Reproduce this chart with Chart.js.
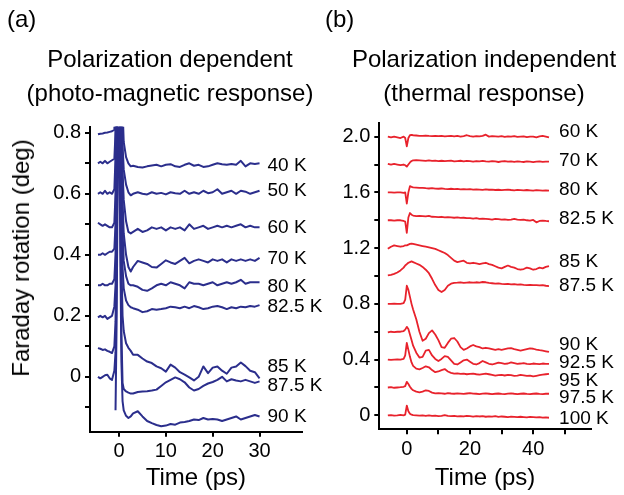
<!DOCTYPE html>
<html>
<head>
<meta charset="utf-8">
<script src="https://cdn.jsdelivr.net/npm/chart.js@4/dist/chart.umd.min.js"></script>
<style>
  html, body { margin: 0; padding: 0; background: #fff; }
  #wrap { position: relative; width: 624px; height: 495px; overflow: hidden; font-family: "Liberation Sans", Arial, sans-serif; color: #000; }
  canvas { position: absolute; left: 0; top: 0; }
  .txt { position: absolute; font-size: 24px; line-height: 24px; white-space: nowrap; }
  .ctr { transform: translateX(-50%); }
  #ytitle { transform: translate(-50%, -50%) rotate(-90deg); }
</style>
</head>
<body>
<div id="wrap">
  <canvas id="left" width="624" height="495"></canvas>
  <canvas id="right" width="624" height="495"></canvas>
  <div class="txt" style="left:7px; top:7px;">(a)</div>
  <div class="txt ctr" style="left:170px; top:47px;">Polarization dependent</div>
  <div class="txt ctr" style="left:170px; top:81px;">(photo-magnetic response)</div>
  <div class="txt" style="left:325px; top:7px;">(b)</div>
  <div class="txt ctr" style="left:484px; top:47px;">Polarization independent</div>
  <div class="txt ctr" style="left:484px; top:81px;">(thermal response)</div>
  <div class="txt" id="ytitle" style="left:21px; top:258px;">Faraday rotation (deg)</div>
</div>
<script>
// ---------- Panel (a): polarization-dependent Faraday rotation ----------
// delay axis: before pump, the pump spike (fine steps), then 1 ps steps
const timeA = [-4.5, -4, -3.5, -3, -2.5, -2, -1.5,
  -1, -0.75, -0.5, -0.25, 0, 0.25, 0.5, 0.75, 1, 1.5, 2, 2.5, 3,
  4, 5, 6, 7, 8, 9, 10, 11, 12, 13, 14, 15, 16, 17, 18, 19, 20, 21, 22, 23, 24, 25, 26, 27, 28, 29, 30];

const a_top = [0.795, 0.797, 0.798, 0.80, 0.801, 0.803, 0.805,
  0.81, 0.95, 1.6];
const a_40K = [0.70, 0.705, 0.70, 0.708, 0.70, 0.705, 0.71,
  0.715, 0.80, 1.5, 1.9, 1.8, 1.5, 1.2, 0.88, 0.77, 0.72, 0.70, 0.69, 0.692,
  0.688, 0.686, 0.69, 0.693, 0.695, 0.69, 0.695, 0.697, 0.69, 0.688, 0.695, 0.70, 0.692, 0.695, 0.688, 0.69, 0.695, 0.70, 0.697, 0.695, 0.698, 0.695, 0.708, 0.69, 0.70, 0.698, 0.70];
const a_50K = [0.60, 0.605, 0.60, 0.61, 0.60, 0.605, 0.60,
  0.615, 0.72, 1.3, 1.8, 1.7, 1.3, 1.0, 0.76, 0.68, 0.63, 0.605, 0.595, 0.60,
  0.605, 0.60, 0.598, 0.605, 0.60, 0.603, 0.598, 0.605, 0.602, 0.60, 0.61, 0.60, 0.605, 0.60, 0.61, 0.602, 0.605, 0.615, 0.60, 0.605, 0.61, 0.60, 0.61, 0.607, 0.60, 0.605, 0.61];
const a_60K = [0.505, 0.50, 0.495, 0.50, 0.495, 0.49, 0.49,
  0.505, 0.60, 1.0, 1.6, 1.6, 1.2, 0.90, 0.68, 0.58, 0.51, 0.475, 0.47, 0.475,
  0.485, 0.475, 0.48, 0.49, 0.485, 0.49, 0.48, 0.49, 0.485, 0.49, 0.48, 0.50, 0.485, 0.49, 0.495, 0.485, 0.49, 0.495, 0.49, 0.495, 0.49, 0.495, 0.50, 0.49, 0.495, 0.49, 0.49];
const a_70K = [0.40, 0.40, 0.405, 0.40, 0.405, 0.41, 0.41,
  0.42, 0.50, 0.85, 1.4, 1.5, 1.1, 0.80, 0.58, 0.47, 0.40, 0.36, 0.345, 0.36,
  0.38, 0.375, 0.37, 0.36, 0.358, 0.37, 0.382, 0.375, 0.37, 0.38, 0.39, 0.372, 0.38, 0.385, 0.38, 0.375, 0.385, 0.38, 0.385, 0.375, 0.385, 0.38, 0.385, 0.38, 0.385, 0.38, 0.39];
const a_80K = [0.30, 0.30, 0.305, 0.30, 0.30, 0.305, 0.305,
  0.32, 0.40, 0.70, 1.2, 1.3, 0.95, 0.68, 0.48, 0.38, 0.33, 0.305, 0.30, 0.30,
  0.295, 0.285, 0.282, 0.29, 0.30, 0.305, 0.30, 0.31, 0.305, 0.30, 0.29, 0.31, 0.305, 0.305, 0.30, 0.305, 0.31, 0.30, 0.305, 0.31, 0.305, 0.31, 0.318, 0.305, 0.31, 0.31, 0.31];
const a_82K = [0.195, 0.20, 0.195, 0.20, 0.19, 0.195, 0.20,
  0.23, 0.30, 0.60, 1.1, 1.2, 0.85, 0.55, 0.36, 0.29, 0.25, 0.235, 0.228, 0.225,
  0.22, 0.212, 0.215, 0.222, 0.22, 0.222, 0.225, 0.23, 0.228, 0.225, 0.23, 0.225, 0.232, 0.228, 0.222, 0.225, 0.23, 0.232, 0.228, 0.222, 0.228, 0.225, 0.23, 0.228, 0.232, 0.23, 0.235];
const a_85K = [0.094, 0.092, 0.088, 0.09, 0.085, 0.082, 0.078,
  0.10, 0.18, 0.45, 0.95, 1.05, 0.70, 0.38, 0.20, 0.15, 0.11, 0.095, 0.085, 0.072,
  0.072, 0.06, 0.05, 0.045, 0.034, 0.028, 0.017, 0.04, 0.03, 0.015, 0.007, -0.002, -0.012, 0.0, 0.034, 0.012, 0.03, 0.034, 0.02, 0.01, 0.03, 0.034, 0.047, 0.035, 0.02, 0.015, -0.005];
const a_87K = [0.0, -0.005, 0.0, 0.005, 0.007, -0.005, -0.01,
  0.02, 0.08, 0.35, 0.85, 0.95, 0.55, 0.15, -0.02, -0.04, -0.048, -0.052, -0.055, -0.055,
  -0.05, -0.048, -0.047, -0.045, -0.042, -0.03, -0.018, -0.01, -0.002, -0.008, -0.018, -0.035, -0.045, -0.04, -0.03, -0.022, -0.017, -0.01, 0.0, -0.015, -0.008, -0.012, -0.015, -0.01, -0.015, -0.02, -0.015];
const a_90K = [null, null, null, null, null, null, null,
  null, -0.11, 0.20, 0.75, 0.90, 0.45, 0.05, -0.08, -0.11, -0.128, -0.135, -0.13, -0.12,
  -0.113, -0.13, -0.145, -0.152, -0.158, -0.162, -0.16, -0.155, -0.157, -0.15, -0.148, -0.145, -0.14, -0.142, -0.135, -0.14, -0.138, -0.14, -0.145, -0.14, -0.135, -0.13, -0.14, -0.135, -0.13, -0.125, -0.13];

const seriesA = [a_top, a_40K, a_50K, a_60K, a_70K, a_80K, a_82K, a_85K, a_87K, a_90K];
const labelsA = ['40 K', '50 K', '60 K', '70 K', '80 K', '82.5 K', '85 K', '87.5 K', '90 K'];
const labelYA = [0.693, 0.611, 0.487, 0.386, 0.294, 0.229, 0.033, -0.029, -0.131];
const labelTA = 31.7;
const xTicksA = [0, 10, 20, 30];
const yTicksA = [-0.1, 0, 0.1, 0.2, 0.3, 0.4, 0.5, 0.6, 0.7, 0.8];
const yLabelStepA = 0.2;

// ---------- Panel (b): polarization-independent (thermal) response ----------
const timeB = [-6, -5, -4, -3, -2, -1, -0.5,
  0, 0.5, 1, 1.5, 2,
  3, 4, 5, 6, 7, 8, 9, 10, 11, 12, 13, 14, 15, 16, 17, 18, 19, 20, 21, 22, 23, 24,
  25, 26, 27, 28, 29, 30, 31, 32, 33, 34, 35, 36, 37, 38, 39, 40, 41, 42, 43, 44, 45];

const b_60K = [2.0, 1.995, 2.0, 1.995, 1.99, 2.0, 1.99,
  1.93, 1.99, 2.01, 2.012, 2.01,
  2.008, 2.006, 2.005, 2.008, 2.005, 2.004, 2.006, 2.003, 2.005, 2.002, 2.004, 2.006, 2.002, 2.005, 2.0, 2.004, 2.01, 2.003, 2.0, 2.004, 2.002, 2.005,
  2.014, 2.0, 2.004, 2.002, 2.0, 2.003, 1.998, 2.002, 2.0, 2.004, 1.998, 2.0, 2.002, 1.996, 2.0, 2.0, 1.995, 2.002, 2.005, 2.0, 1.995];
const b_70K = [1.805, 1.80, 1.805, 1.80, 1.795, 1.80, 1.795,
  1.785, 1.80, 1.815, 1.825, 1.83,
  1.832, 1.83, 1.828, 1.826, 1.83, 1.826, 1.828, 1.825, 1.827, 1.824, 1.826, 1.828, 1.823, 1.825, 1.827, 1.822, 1.826, 1.824, 1.821, 1.825, 1.823, 1.826,
  1.822, 1.82, 1.824, 1.822, 1.818, 1.823, 1.825, 1.82, 1.822, 1.819, 1.823, 1.82, 1.818, 1.822, 1.82, 1.817, 1.821, 1.823, 1.819, 1.821, 1.82];
const b_80K = [1.60, 1.60, 1.598, 1.60, 1.60, 1.597, 1.60,
  1.52, 1.60, 1.645, 1.64, 1.636,
  1.634, 1.632, 1.633, 1.63, 1.628, 1.63, 1.627, 1.626, 1.628, 1.625, 1.624, 1.626, 1.623, 1.625, 1.622, 1.624, 1.621, 1.623, 1.62, 1.622, 1.62, 1.618,
  1.621, 1.619, 1.62, 1.617, 1.619, 1.616, 1.618, 1.62, 1.617, 1.615, 1.618, 1.616, 1.614, 1.617, 1.615, 1.613, 1.616, 1.614, 1.612, 1.615, 1.613];
const b_82K = [1.40, 1.40, 1.398, 1.40, 1.40, 1.395, 1.39,
  1.31, 1.42, 1.452, 1.44, 1.434,
  1.43, 1.432, 1.43, 1.428, 1.432, 1.425, 1.424, 1.422, 1.425, 1.42, 1.422, 1.42, 1.418, 1.42, 1.417, 1.418, 1.415, 1.416, 1.412, 1.415, 1.41, 1.412,
  1.41, 1.408, 1.405, 1.41, 1.408, 1.404, 1.406, 1.403, 1.405, 1.41, 1.404, 1.402, 1.405, 1.4, 1.398, 1.402, 1.385, 1.395, 1.398, 1.395, 1.393];
const b_85K = [1.195, 1.21, 1.22, 1.215, 1.21, 1.215, 1.22,
  1.22, 1.225, 1.23, 1.232, 1.23,
  1.225, 1.22, 1.215, 1.21, 1.205, 1.20, 1.195, 1.185, 1.175, 1.165, 1.15, 1.13, 1.11, 1.10, 1.105, 1.11, 1.095, 1.09, 1.095, 1.09, 1.085, 1.09,
  1.095, 1.085, 1.08, 1.07, 1.06, 1.055, 1.065, 1.075, 1.065, 1.06, 1.05, 1.045, 1.05, 1.06, 1.055, 1.045, 1.05, 1.06, 1.055, 1.065, 1.07];
const b_87K = [1.005, 1.008, 1.015, 1.025, 1.04, 1.06, 1.075,
  1.085, 1.095, 1.10, 1.105, 1.10,
  1.09, 1.08, 1.065, 1.045, 1.02, 0.98, 0.935, 0.90, 0.885, 0.90, 0.93, 0.945, 0.95, 0.952, 0.955, 0.95, 0.953, 0.955, 0.952, 0.955, 0.953, 0.957,
  0.955, 0.95, 0.948, 0.945, 0.947, 0.944, 0.942, 0.944, 0.94, 0.942, 0.938, 0.94, 0.937, 0.935, 0.937, 0.934, 0.935, 0.932, 0.934, 0.93, 0.928];
const b_90K = [0.80, 0.80, 0.802, 0.80, 0.80, 0.805, 0.83,
  0.93, 0.90, 0.85, 0.80, 0.76,
  0.69, 0.60, 0.535, 0.55, 0.59, 0.61, 0.58, 0.54, 0.49, 0.485, 0.52, 0.55, 0.555, 0.53, 0.49, 0.47, 0.48, 0.495, 0.505, 0.495, 0.49, 0.48,
  0.485, 0.48, 0.475, 0.47, 0.475, 0.47, 0.475, 0.48, 0.482, 0.475, 0.47, 0.465, 0.47, 0.475, 0.48, 0.478, 0.472, 0.468, 0.465, 0.46, 0.455];
const b_92K = [0.595, 0.60, 0.598, 0.60, 0.60, 0.605, 0.615,
  0.635, 0.62, 0.58, 0.54, 0.50,
  0.45, 0.415, 0.42, 0.465, 0.47, 0.43, 0.405, 0.39, 0.405, 0.425, 0.42, 0.395, 0.37, 0.365, 0.38, 0.395, 0.40, 0.385, 0.37, 0.365, 0.375, 0.39,
  0.38, 0.37, 0.365, 0.372, 0.378, 0.375, 0.37, 0.372, 0.38, 0.375, 0.37, 0.372, 0.375, 0.37, 0.368, 0.372, 0.37, 0.368, 0.372, 0.37, 0.37];
const b_95K = [0.40, 0.398, 0.40, 0.402, 0.40, 0.405, 0.43,
  0.52, 0.47, 0.42, 0.38, 0.355,
  0.335, 0.33, 0.34, 0.352, 0.345, 0.325, 0.31, 0.315, 0.325, 0.332, 0.315, 0.305, 0.30, 0.302, 0.298, 0.30, 0.295, 0.298, 0.30, 0.295, 0.292, 0.296,
  0.30, 0.295, 0.29, 0.285, 0.288, 0.29, 0.286, 0.29, 0.288, 0.284, 0.285, 0.29, 0.287, 0.283, 0.285, 0.28, 0.284, 0.288, 0.292, 0.295, 0.298];
const b_97K = [0.20, 0.202, 0.198, 0.20, 0.202, 0.205, 0.21,
  0.24, 0.225, 0.205, 0.19, 0.18,
  0.17, 0.165, 0.17, 0.18, 0.175, 0.163, 0.158, 0.16, 0.158, 0.155, 0.16, 0.157, 0.155, 0.158, 0.156, 0.154, 0.157, 0.16, 0.156, 0.155, 0.153, 0.156,
  0.158, 0.155, 0.152, 0.155, 0.157, 0.154, 0.152, 0.156, 0.158, 0.155, 0.153, 0.155, 0.157, 0.154, 0.152, 0.155, 0.157, 0.154, 0.152, 0.155, 0.155];
const b_100K = [0.0, 0.002, -0.002, 0.0, 0.003, 0.0, 0.005,
  0.07, 0.03, 0.012, 0.005, 0.002,
  0.0, -0.002, 0.0, -0.003, 0.0, -0.004, -0.002, -0.005, -0.003, 0.002, -0.004, -0.006, -0.003, -0.007, -0.005, -0.008, -0.004, -0.006, -0.009, -0.005, -0.008, -0.006,
  -0.01, -0.007, -0.009, -0.006, -0.011, -0.008, -0.01, -0.012, -0.009, -0.011, -0.013, -0.01, -0.012, -0.014, -0.011, -0.013, -0.015, -0.012, -0.016, -0.014, -0.017];

const seriesB = [b_60K, b_70K, b_80K, b_82K, b_85K, b_87K, b_90K, b_92K, b_95K, b_97K, b_100K];
const labelsB = ['60 K', '70 K', '80 K', '82.5 K', '85 K', '87.5 K', '90 K', '92.5 K', '95 K', '97.5 K', '100 K'];
const labelYB = [2.033, 1.826, 1.618, 1.41, 1.102, 0.93, 0.507, 0.378, 0.249, 0.127, -0.024];
const labelTB = 48.2;
const xTicksB = [0, 10, 20, 30, 40, 50];
const xLabelStepB = 20;
const yTicksB = [0, 0.2, 0.4, 0.6, 0.8, 1.0, 1.2, 1.4, 1.6, 1.8, 2.0];
const yLabelStepB = 0.4;

// ---------- shared drawing helpers ----------
const FONT = '"Liberation Sans", Arial, sans-serif';
const BLUE = '#2b2e8c';
const RED = '#e8222c';
Chart.defaults.color = '#000';
Chart.defaults.font.family = FONT;

function toPoints(times, values) {
  return times.map((t, i) => ({ x: t, y: values[i] === undefined ? null : values[i] }));
}

function isStep(v, step) {
  const r = v / step;
  return Math.abs(r - Math.round(r)) < 1e-6;
}

function fmt(v) {
  return Math.abs(v) < 1e-9 ? '0' : v.toFixed(1);
}

// draws the temperature name at the right end of each trace
const traceLabels = {
  id: 'traceLabels',
  afterDraw(chart, args, opts) {
    const { ctx, scales: { x, y } } = chart;
    ctx.save();
    ctx.font = opts.size + 'px ' + FONT;
    ctx.fillStyle = '#000';
    ctx.textAlign = 'left';
    ctx.textBaseline = 'middle';
    const px = x.getPixelForValue(opts.t);
    opts.names.forEach((n, i) => ctx.fillText(n, px, y.getPixelForValue(opts.ys[i])));
    ctx.restore();
  }
};

function axisCommon() {
  return {
    type: 'linear',
    grid: { drawOnChartArea: false, drawTicks: true, tickLength: 5, color: '#000', lineWidth: 2 },
    border: { display: true, color: '#000', width: 2 },
    ticks: { font: { size: 20, family: FONT }, color: '#000', maxRotation: 0, autoSkip: false }
  };
}

function makeChart(id, cfg) {
  const x = axisCommon();
  Object.assign(x, {
    min: cfg.xMin, max: cfg.xMax,
    afterFit: s => { s.height = cfg.xAxisH; },
    afterBuildTicks: s => { s.ticks = cfg.xTicks.map(v => ({ value: v })); },
    title: { display: true, text: 'Time (ps)', font: { size: 24, family: FONT }, color: '#000', padding: { top: 0, bottom: 2 } }
  });
  x.ticks = Object.assign({}, x.ticks, {
    padding: 3,
    callback: v => (isStep(v, cfg.xLabelStep) ? String(v) : '')
  });
  const y = axisCommon();
  Object.assign(y, {
    min: cfg.yMin, max: cfg.yMax,
    afterFit: s => { s.width = cfg.yAxisW; },
    afterBuildTicks: s => { s.ticks = cfg.yTicks.map(v => ({ value: v })); }
  });
  y.ticks = Object.assign({}, y.ticks, {
    padding: 4,
    callback: v => (isStep(v, cfg.yLabelStep) ? fmt(v) : '')
  });

  return new Chart(document.getElementById(id), {
    type: 'line',
    data: {
      datasets: cfg.series.map(s => ({
        data: toPoints(cfg.times, s),
        borderColor: cfg.color,
        borderWidth: cfg.lineW,
        pointRadius: 0,
        tension: 0,
        borderJoinStyle: 'round',
        spanGaps: false,
        fill: false
      }))
    },
    options: {
      responsive: false,
      animation: false,
      devicePixelRatio: 1,
      layout: { padding: cfg.padding },
      plugins: {
        legend: { display: false },
        tooltip: { enabled: false },
        traceLabels: { names: cfg.names, ys: cfg.labelY, t: cfg.labelT, size: 19 }
      },
      scales: { x, y }
    },
    plugins: [traceLabels]
  });
}

makeChart('left', {
  times: timeA, series: seriesA, color: BLUE, lineW: 2,
  xMin: -6.2, xMax: 39, yMin: -0.18, yMax: 0.82,
  xTicks: xTicksA, xLabelStep: 10, yTicks: yTicksA, yLabelStep: yLabelStepA,
  xAxisH: 63.3, yAxisW: 90,
  padding: { left: 0, top: 126.7, right: 322.3, bottom: 0 },
  names: labelsA, labelY: labelYA, labelT: labelTA
});

makeChart('right', {
  times: timeB, series: seriesB, color: RED, lineW: 1.8,
  xMin: -8.7, xMax: 58.2, yMin: -0.1, yMax: 2.1,
  xTicks: xTicksB, xLabelStep: xLabelStepB, yTicks: yTicksB, yLabelStep: yLabelStepB,
  xAxisH: 65.7, yAxisW: 60,
  padding: { left: 319.3, top: 122.7, right: 33.3, bottom: 0 },
  names: labelsB, labelY: labelYB, labelT: labelTB
});
</script>
</body>
</html>
